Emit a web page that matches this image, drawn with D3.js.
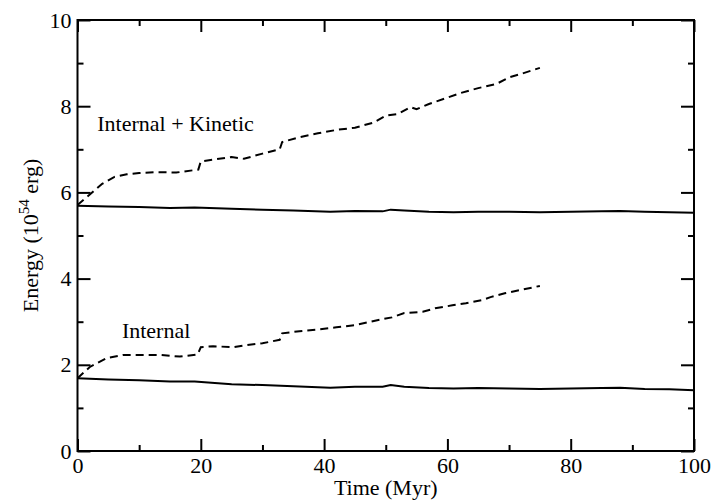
<!DOCTYPE html>
<html>
<head>
<meta charset="utf-8">
<script src="https://cdn.jsdelivr.net/npm/d3@7"></script>
<style>
body { margin: 0; background: #fff; }
svg { display: block; }
</style>
</head>
<body>
<svg></svg>
<script>
var width = 715;
var height = 504;
var serif = "'Liberation Serif', 'Times New Roman', 'DejaVu Serif', serif";

// values (Time in Myr, Energy in 10^54 erg)
var ikDashT = [0, 2, 4, 6, 8, 10, 13, 16, 19.6, 20, 22, 25, 27, 30, 32.8, 33.2, 36, 39, 42, 45, 48, 50, 52, 54, 55, 57, 60, 62, 65, 68, 70, 72, 75];
var ikDashE = [5.71, 5.95, 6.2, 6.36, 6.42, 6.45, 6.47, 6.46, 6.53, 6.72, 6.76, 6.82, 6.78, 6.9, 7.0, 7.17, 7.28, 7.37, 7.45, 7.5, 7.62, 7.78, 7.82, 7.98, 7.93, 8.05, 8.2, 8.3, 8.42, 8.52, 8.67, 8.75, 8.89];

var iDashT = [0, 2, 4.8, 7.5, 10, 13.4, 16.6, 19.5, 20, 22, 25.3, 27, 30, 32.8, 33.2, 36, 39, 42, 45, 48.8, 51, 53, 56, 58, 60.8, 63, 65.6, 67, 69.3, 72, 75];
var iDashE = [1.69, 1.95, 2.16, 2.23, 2.23, 2.23, 2.19, 2.24, 2.41, 2.43, 2.41, 2.45, 2.5, 2.58, 2.73, 2.78, 2.82, 2.87, 2.92, 3.04, 3.1, 3.2, 3.23, 3.31, 3.38, 3.43, 3.5, 3.57, 3.66, 3.74, 3.83];

var solidT = [0, 5, 10, 15, 19, 25, 30, 35, 41, 45, 49.5, 50.8, 53, 57, 61, 65, 70, 75, 80, 85, 88, 92, 96, 100];
var ikSolidE = [5.69, 5.67, 5.66, 5.64, 5.65, 5.62, 5.60, 5.58, 5.55, 5.57, 5.56, 5.60, 5.58, 5.55, 5.54, 5.55, 5.55, 5.54, 5.55, 5.56, 5.57, 5.55, 5.54, 5.53];
var iSolidE = [1.69, 1.66, 1.64, 1.61, 1.61, 1.55, 1.53, 1.50, 1.47, 1.49, 1.49, 1.53, 1.49, 1.46, 1.45, 1.46, 1.45, 1.44, 1.45, 1.46, 1.47, 1.44, 1.43, 1.41];

var xMajor = [0, 20, 40, 60, 80, 100];
var xMinor = [10, 30, 50, 70, 90];
var yMajor = [0, 2, 4, 6, 8, 10];
var yMinor = [1, 3, 5, 7, 9];

var margin = {left: 77.5, right: 21, top: 20, bottom: 53};
var w = width - margin.left - margin.right;
var h = height - margin.top - margin.bottom;

var svg = d3.select("svg").attr("width", width).attr("height", height)
    .style("font-family", serif);
var g = svg.append("g").attr("transform", "translate(" + margin.left + "," + margin.top + ")");

var x = d3.scaleLinear().domain([0, 100]).range([0, w]);
var y = d3.scaleLinear().domain([0, 10]).range([h, 0]);

function styleAxis(sel) {
    sel.attr("font-family", null).attr("font-size", null);
    sel.select(".domain").remove();
    sel.selectAll("line").attr("stroke", "#000").attr("stroke-width", 2);
    sel.selectAll("text").attr("fill", "#000")
        .style("font-family", serif).style("font-size", "22px");
}

// major ticks with labels
g.append("g").attr("transform", "translate(0," + h + ")")
    .call(d3.axisBottom(x).tickValues(xMajor).tickSize(-12).tickPadding(6).tickFormat(d3.format("d")))
    .call(styleAxis);
g.append("g")
    .call(d3.axisLeft(y).tickValues(yMajor).tickSize(-13).tickPadding(6).tickFormat(d3.format("d")))
    .call(styleAxis);
// top / right major ticks, no labels
g.append("g")
    .call(d3.axisTop(x).tickValues(xMajor).tickSize(-12).tickFormat(""))
    .call(styleAxis);
g.append("g").attr("transform", "translate(" + w + ",0)")
    .call(d3.axisRight(y).tickValues(yMajor).tickSize(-13).tickFormat(""))
    .call(styleAxis);
// minor ticks
g.append("g").attr("transform", "translate(0," + h + ")")
    .call(d3.axisBottom(x).tickValues(xMinor).tickSize(-6).tickFormat(""))
    .call(styleAxis);
g.append("g")
    .call(d3.axisTop(x).tickValues(xMinor).tickSize(-6).tickFormat(""))
    .call(styleAxis);
g.append("g")
    .call(d3.axisLeft(y).tickValues(yMinor).tickSize(-6).tickFormat(""))
    .call(styleAxis);
g.append("g").attr("transform", "translate(" + w + ",0)")
    .call(d3.axisRight(y).tickValues(yMinor).tickSize(-6).tickFormat(""))
    .call(styleAxis);

// frame
g.append("rect").attr("x", 0).attr("y", 0).attr("width", w).attr("height", h)
    .attr("fill", "none").attr("stroke", "#000").attr("stroke-width", 2);

var line = d3.line()
    .x(function(d) { return x(d[0]); })
    .y(function(d) { return y(d[1]); });

function zip(t, e) { return t.map(function(v, i) { return [v, e[i]]; }); }

var series = [
    {data: zip(solidT, ikSolidE), dash: null},
    {data: zip(solidT, iSolidE), dash: null},
    {data: zip(ikDashT, ikDashE), dash: "8,5"},
    {data: zip(iDashT, iDashE), dash: "8,5"}
];

g.selectAll("path.curve").data(series).enter().append("path")
    .attr("class", "curve")
    .attr("d", function(d) { return line(d.data); })
    .attr("fill", "none")
    .attr("stroke", "#000")
    .attr("stroke-width", 2)
    .attr("stroke-dasharray", function(d) { return d.dash; });

// curve labels
g.append("text").attr("x", x(3.2)).attr("y", y(7.43))
    .style("font-family", serif).style("font-size", "22px").text("Internal + Kinetic");
g.append("text").attr("x", x(7.2)).attr("y", y(2.63))
    .style("font-family", serif).style("font-size", "22px").text("Internal");

// axis titles
svg.append("text")
    .attr("x", margin.left + w / 2).attr("y", 495)
    .attr("text-anchor", "middle")
    .style("font-family", serif).style("font-size", "22px")
    .text("Time (Myr)");

var yt = svg.append("text")
    .attr("transform", "translate(38," + (margin.top + h / 2) + ") rotate(-90)")
    .attr("text-anchor", "middle")
    .style("font-family", serif).style("font-size", "22px");
yt.append("tspan").text("Energy (10");
yt.append("tspan").attr("dy", -9).style("font-size", "15px").text("54");
yt.append("tspan").attr("dy", 9).text(" erg)");
</script>
</body>
</html>
